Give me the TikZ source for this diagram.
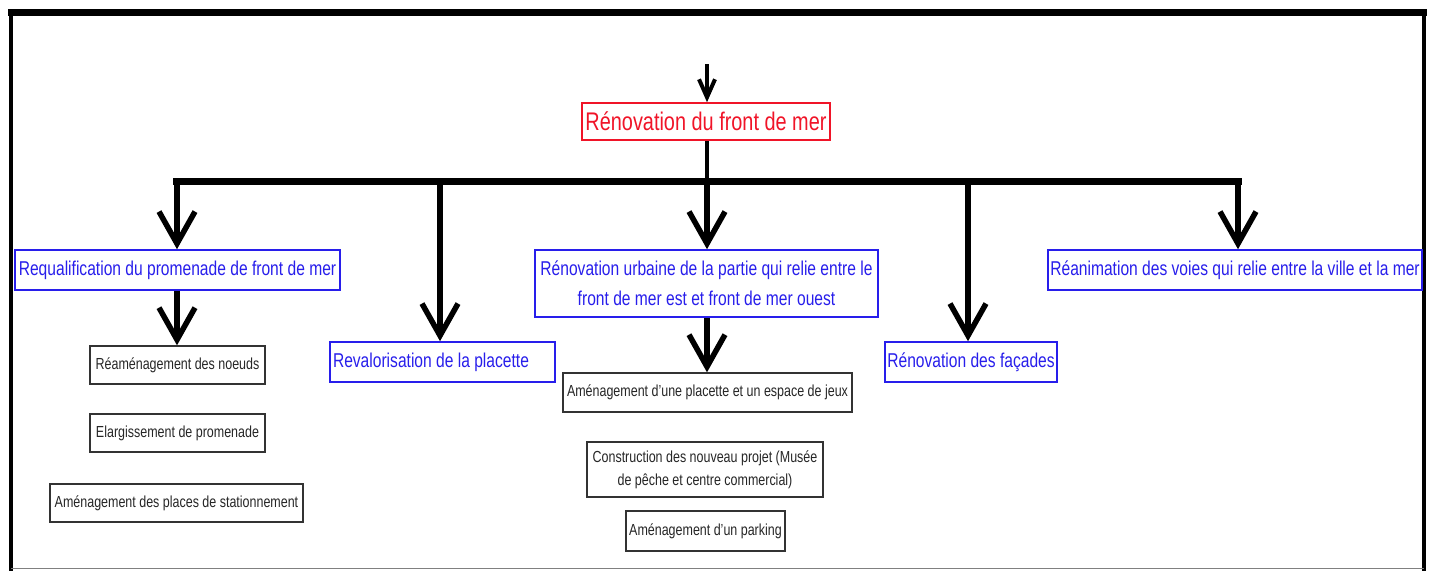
\documentclass[tikz,border=0pt]{standalone}
\usepackage{fontspec}
\setmainfont{Liberation Sans}[FakeStretch=0.78]
\usetikzlibrary{arrows.meta}
\definecolor{bblue}{RGB}{40,30,235}
\definecolor{rred}{RGB}{240,20,40}
\begin{document}
\begin{tikzpicture}[x=1pt,y=-1pt,
  bluebox/.style={draw=bblue,text=bblue,line width=1.6pt,inner sep=0pt,minimum height=40pt,
    font=\fontsize{20}{30}\selectfont,align=center},
  redbox/.style={draw=rred,text=rred,line width=1.6pt,inner sep=0pt,minimum height=37pt,
    font=\fontsize{25.5}{30}\selectfont},
  blackbox/.style={draw=black!80,text=black!85,line width=1.4pt,inner sep=0pt,minimum height=38pt,
    font=\fontsize{16}{23}\selectfont,align=center},
  bigarrow/.style={line width=5.5pt,-{Straight Barb[length=32pt,width=36pt]}},
  smallarrow/.style={line width=4pt,-{Straight Barb[length=18pt,width=16pt]}},
  barline/.style={line width=7pt,line cap=butt}]
\useasboundingbox (0,0) rectangle (1431,570);
% frame
\draw[line width=4pt] (11,11) -- (11,572);
\draw[line width=4pt] (1424,11) -- (1424,572);
\draw[line width=7pt] (8,12) -- (1427,12);
\draw[line width=1pt,black!50] (11,568.5) -- (1424,568.5);
% nodes
\node[redbox,minimum width=248pt] (red) at (706,121.5) {Rénovation du front de mer};
\node[bluebox,minimum width=325pt] (req) at (177.5,270) {Requalification du promenade de front de mer};
\node[bluebox,minimum width=225pt] (plac) at (442.5,362) {\makebox[219pt][l]{Revalorisation de la placette}};
\node[bluebox,minimum width=343pt,minimum height=67pt] (urb) at (706.5,283.5) {Rénovation urbaine de la partie qui relie entre le\\front de mer est et front de mer ouest};
\node[bluebox,minimum width=172pt] (fac) at (971,362) {Rénovation des façades};
\node[bluebox,minimum width=374pt] (rean) at (1235,270) {Réanimation des voies qui relie entre la ville et la mer};
\node[blackbox,minimum width=175pt] (n1) at (177.5,365) {Réaménagement des noeuds};
\node[blackbox,minimum width=175pt] (n2) at (177.5,433) {Elargissement de promenade};
\node[blackbox,minimum width=253pt] (n3) at (176.5,503) {Aménagement des places de stationnement};
\node[blackbox,minimum width=289pt,minimum height=39pt] (m1) at (707.5,392.5) {Aménagement d'une placette et un espace de jeux};
\node[blackbox,minimum width=236pt,minimum height=55pt] (m2) at (705,469.5) {Construction des nouveau projet (Musée\\de pêche et centre commercial)};
\node[blackbox,minimum width=159pt,minimum height=40pt] (m3) at (705.5,531) {Aménagement d'un parking};
% coordinates
\coordinate (top) at (707,64);
\coordinate (b1) at (177,181);
\coordinate (b2) at (440,181);
\coordinate (b3) at (707,181);
\coordinate (b4) at (968,181);
\coordinate (b5) at (1238,181);
\coordinate (bl) at (173,181);
\coordinate (br) at (1242,181);
% connectors
\draw[smallarrow] (top) -- (red.north -| top);
\draw[line width=4pt] (red.south -| top) -- (b3);
\draw[barline] (bl) -- (br);
\draw[bigarrow] (b1) -- (b1 |- req.north);
\draw[bigarrow] (b2) -- (b2 |- plac.north);
\draw[bigarrow] (b3) -- (b3 |- urb.north);
\draw[bigarrow] (b4) -- (b4 |- fac.north);
\draw[bigarrow] (b5) -- (b5 |- rean.north);
\draw[bigarrow] (req.south -| b1) -- (b1 |- n1.north);
\draw[bigarrow] (urb.south -| b3) -- (b3 |- m1.north);
\end{tikzpicture}
\end{document}
